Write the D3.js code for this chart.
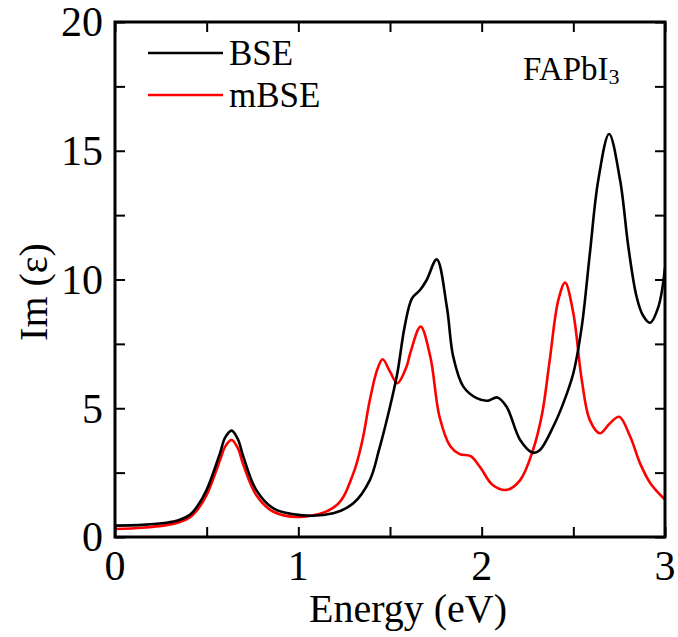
<!DOCTYPE html>
<html>
<head>
<meta charset="utf-8">
<script src="https://cdn.jsdelivr.net/npm/d3@7"></script>
<style>
  body { margin: 0; background: #fff; }
  text { font-family: "Liberation Serif", "Times New Roman", serif; }
</style>
</head>
<body>
<svg id="chart" width="678" height="637"></svg>
<script>
var svg = d3.select("svg#chart");

// BSE (black)
var bseEnergy = [0, 0.15, 0.28, 0.35, 0.41, 0.45, 0.50, 0.573, 0.60, 0.636, 0.67, 0.70, 0.77, 0.864, 1.01, 1.19, 1.30, 1.39, 1.44, 1.50, 1.54, 1.58, 1.62, 1.664, 1.70, 1.755, 1.81, 1.845, 1.90, 1.973, 2.03, 2.085, 2.136, 2.21, 2.28, 2.318, 2.39, 2.445, 2.50, 2.546, 2.59, 2.636, 2.695, 2.755, 2.80, 2.845, 2.88, 2.918, 2.964, 3.0];
var bseIm = [0.44, 0.47, 0.55, 0.66, 0.87, 1.2, 1.83, 3.26, 3.85, 4.13, 3.8, 3.12, 1.83, 1.11, 0.85, 0.92, 1.31, 2.21, 3.38, 5.06, 6.36, 8.17, 9.27, 9.59, 9.98, 10.78, 8.94, 7.0, 5.84, 5.39, 5.29, 5.42, 5.06, 3.77, 3.27, 3.38, 4.28, 5.19, 6.36, 8.17, 11.0, 13.86, 15.65, 13.86, 11.27, 9.33, 8.6, 8.32, 8.94, 10.45];

// mBSE (red)
var mbseEnergy = [0, 0.15, 0.28, 0.35, 0.41, 0.45, 0.50, 0.573, 0.60, 0.636, 0.67, 0.70, 0.77, 0.864, 1.03, 1.21, 1.30, 1.35, 1.39, 1.43, 1.46, 1.50, 1.54, 1.59, 1.61, 1.667, 1.72, 1.77, 1.83, 1.88, 1.94, 1.99, 2.06, 2.136, 2.21, 2.28, 2.33, 2.37, 2.418, 2.455, 2.50, 2.546, 2.59, 2.645, 2.70, 2.75, 2.81, 2.864, 2.92, 3.0];
var mbseIm = [0.31, 0.36, 0.46, 0.57, 0.77, 1.06, 1.63, 2.99, 3.5, 3.77, 3.45, 2.8, 1.63, 0.98, 0.79, 1.24, 2.47, 3.77, 5.32, 6.49, 6.90, 6.42, 5.97, 6.61, 7.13, 8.17, 7.0, 4.67, 3.51, 3.22, 3.14, 2.73, 2.02, 1.83, 2.21, 3.38, 4.8, 6.8, 9.2, 9.88, 8.69, 6.1, 4.54, 4.03, 4.42, 4.67, 3.9, 2.86, 2.09, 1.45];

var xTicks = [0, 1, 2, 3];
var yTicks = [0, 5, 10, 15, 20];
var seriesNames = ["BSE", "mBSE"];
var seriesColors = ["#000000", "#ff0000"];

var plotLeft = 115, plotRight = 665, plotTop = 22, plotBottom = 537;

var x = d3.scaleLinear().domain([0, 3]).range([plotLeft, plotRight]);
var y = d3.scaleLinear().domain([0, 20]).range([plotBottom, plotTop]);

var plot = svg.append("g");

// clip so curves stay inside frame
svg.append("clipPath").attr("id", "clip")
    .append("rect")
    .attr("x", plotLeft).attr("y", plotTop)
    .attr("width", plotRight - plotLeft).attr("height", plotBottom - plotTop);

var line = d3.line()
    .x(function(d) { return x(d[0]); })
    .y(function(d) { return y(d[1]); })
    .curve(d3.curveCatmullRom.alpha(0.5));

var bseData = d3.zip(bseEnergy, bseIm);
var mbseData = d3.zip(mbseEnergy, mbseIm);

plot.append("g").attr("clip-path", "url(#clip)")
    .selectAll("path")
    .data([mbseData, bseData])
    .enter().append("path")
        .attr("d", line)
        .attr("fill", "none")
        .attr("stroke", function(d, i) { return i == 0 ? seriesColors[1] : seriesColors[0]; })
        .attr("stroke-width", 2.6);

// axes: ticks point inward, no labels on top/right
var xMinor = d3.range(0, 3.01, 0.5);
var yMinor = d3.range(0, 20.01, 2.5);

svg.append("g")
    .attr("transform", "translate(0," + plotBottom + ")")
    .call(d3.axisTop(x).tickValues(xMinor).tickSize(10).tickFormat(""))
    .call(function(g) { g.select(".domain").remove(); });
svg.append("g")
    .attr("transform", "translate(0," + plotTop + ")")
    .call(d3.axisBottom(x).tickValues(xMinor).tickSize(10).tickFormat(""))
    .call(function(g) { g.select(".domain").remove(); });
svg.append("g")
    .attr("transform", "translate(" + plotLeft + ",0)")
    .call(d3.axisRight(y).tickValues(yMinor).tickSize(10).tickFormat(""))
    .call(function(g) { g.select(".domain").remove(); });
svg.append("g")
    .attr("transform", "translate(" + plotRight + ",0)")
    .call(d3.axisLeft(y).tickValues(yMinor).tickSize(10).tickFormat(""))
    .call(function(g) { g.select(".domain").remove(); });

svg.selectAll(".tick line").attr("stroke", "#000").attr("stroke-width", 2);

svg.append("rect")
    .attr("x", plotLeft).attr("y", plotTop)
    .attr("width", plotRight - plotLeft).attr("height", plotBottom - plotTop)
    .attr("fill", "none")
    .attr("stroke", "#000")
    .attr("stroke-width", 3);

// tick labels
svg.append("g").selectAll("text")
    .data(xTicks)
    .enter().append("text")
        .attr("x", function(d) { return x(d); })
        .attr("y", 580)
        .attr("text-anchor", "middle")
        .attr("font-size", 42)
        .text(function(d) { return d; });

svg.append("g").selectAll("text")
    .data(yTicks)
    .enter().append("text")
        .attr("x", 103)
        .attr("y", function(d) { return y(d); })
        .attr("dy", "0.34em")
        .attr("text-anchor", "end")
        .attr("font-size", 42)
        .text(function(d) { return d; });

// axis titles
svg.append("text")
    .attr("x", 408)
    .attr("y", 622)
    .attr("text-anchor", "middle")
    .attr("font-size", 40)
    .text("Energy (eV)");

svg.append("text")
    .attr("transform", "translate(47,292) rotate(-90)")
    .attr("text-anchor", "middle")
    .attr("font-size", 40)
    .text("Im (ε)");

// legend
var legend = svg.append("g");
legend.selectAll("line")
    .data(seriesNames)
    .enter().append("line")
        .attr("x1", 148).attr("x2", 223)
        .attr("y1", function(d, i) { return 53 + i * 42; })
        .attr("y2", function(d, i) { return 53 + i * 42; })
        .attr("stroke", function(d, i) { return seriesColors[i]; })
        .attr("stroke-width", 2.6);
legend.selectAll("text")
    .data(seriesNames)
    .enter().append("text")
        .attr("x", 229)
        .attr("y", function(d, i) { return 65 + i * 42; })
        .attr("font-size", 35)
        .text(function(d) { return d; });

// compound label
var label = svg.append("text")
    .attr("x", 523)
    .attr("y", 80)
    .attr("font-size", 33);
label.append("tspan").text("FAPbI");
label.append("tspan")
    .attr("font-size", 22)
    .attr("dy", 4)
    .text("3");
</script>
</body>
</html>
